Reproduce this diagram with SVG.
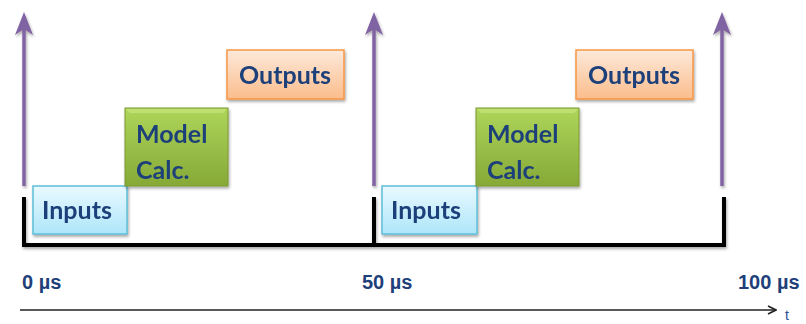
<svg xmlns="http://www.w3.org/2000/svg" width="806" height="324" viewBox="0 0 806 324">
<defs>
<linearGradient id="gIn" x1="0" y1="0" x2="0" y2="1"><stop offset="0" stop-color="#e9f9ff"/><stop offset="1" stop-color="#aee6fa"/></linearGradient>
<linearGradient id="gMod" x1="0" y1="0" x2="0" y2="1"><stop offset="0" stop-color="#aed55a"/><stop offset="1" stop-color="#86a937"/></linearGradient>
<linearGradient id="gOut" x1="0" y1="0" x2="0" y2="1"><stop offset="0" stop-color="#fde9da"/><stop offset="1" stop-color="#fbbd8c"/></linearGradient>
<filter id="sh" x="-10%" y="-10%" width="130%" height="140%"><feGaussianBlur in="SourceAlpha" stdDeviation="1.5"/><feOffset dx="1" dy="2" result="b"/><feComponentTransfer><feFuncA type="linear" slope="0.35"/></feComponentTransfer><feMerge><feMergeNode/><feMergeNode in="SourceGraphic"/></feMerge></filter>
<marker id="ta" markerWidth="10" markerHeight="10" refX="9" refY="5" orient="auto" markerUnits="userSpaceOnUse"><path d="M1,1 L9,5 L1,9" fill="none" stroke="#222" stroke-width="1.6"/></marker>
</defs>
<style>
.box text{font-family:Lato,"Liberation Sans",sans-serif;font-weight:bold;font-size:25px;fill:#1f3f7a}
.in{fill:url(#gIn);stroke:#5ebfd9;stroke-width:1.5}
.mod{fill:url(#gMod);stroke:#7a9a30;stroke-width:1}
.out{fill:url(#gOut);stroke:#f79646;stroke-width:1.5}
.pl{stroke:#8064a2;stroke-width:3.5;fill:none}
.ph{fill:#8064a2}
.br{stroke:#000;stroke-width:4;fill:none;stroke-linecap:square}
.lbl{font-family:"Liberation Sans",Arial,sans-serif;font-weight:bold;font-size:20px;fill:#1f3f7a}
</style>
<g id="connectors">
<g filter="url(#sh)">
<line class="pl" x1="24" y1="186" x2="24" y2="22"/>
<path class="ph" d="M24,12 L33,35 L24,29 L15,35 Z"/>
<line class="pl" x1="374" y1="186" x2="374" y2="22"/>
<path class="ph" d="M374,12 L383,35 L374,29 L365,35 Z"/>
<line class="pl" x1="722" y1="186" x2="722" y2="22"/>
<path class="ph" d="M722,12 L731,35 L722,29 L713,35 Z"/>
<path class="br" d="M24,199 V245 H724 V199"/>
<line class="br" x1="374" y1="199" x2="374" y2="245"/>
</g>
<line x1="20" y1="310" x2="776" y2="310" stroke="#222" stroke-width="1.6" marker-end="url(#ta)"/>
</g>
<g id="inputs1" class="box" filter="url(#sh)">
<rect class="in" x="33" y="186" width="94" height="48"/>
<text x="42" y="219">Inputs</text>
</g>
<g id="model1" class="box" filter="url(#sh)">
<rect class="mod" x="125" y="108" width="103" height="78"/>
<path d="M126,109 H227 L223,113 H130 Z" fill="#c6e67c" opacity="0.7"/>
<text x="136" y="143">Model</text>
<text x="136" y="179">Calc.</text>
</g>
<g id="outputs1" class="box" filter="url(#sh)">
<rect class="out" x="227" y="50" width="117" height="49"/>
<text x="239" y="84">Outputs</text>
</g>
<g id="inputs2" class="box" filter="url(#sh)">
<rect class="in" x="382" y="186" width="95" height="48"/>
<text x="391" y="219">Inputs</text>
</g>
<g id="model2" class="box" filter="url(#sh)">
<rect class="mod" x="476" y="108" width="103" height="78"/>
<path d="M477,109 H578 L574,113 H481 Z" fill="#c6e67c" opacity="0.7"/>
<text x="487" y="143">Model</text>
<text x="487" y="179">Calc.</text>
</g>
<g id="outputs2" class="box" filter="url(#sh)">
<rect class="out" x="576" y="50" width="117" height="49"/>
<text x="588" y="84">Outputs</text>
</g>
<g id="labels">
<text class="lbl" x="22" y="289">0 µs</text>
<text class="lbl" x="362" y="289">50 µs</text>
<text class="lbl" x="738" y="289">100 µs</text>
<text x="785" y="320" font-family="'Liberation Sans',Arial,sans-serif" font-size="14" fill="#2a4f9a">t</text>
</g>
</svg>
